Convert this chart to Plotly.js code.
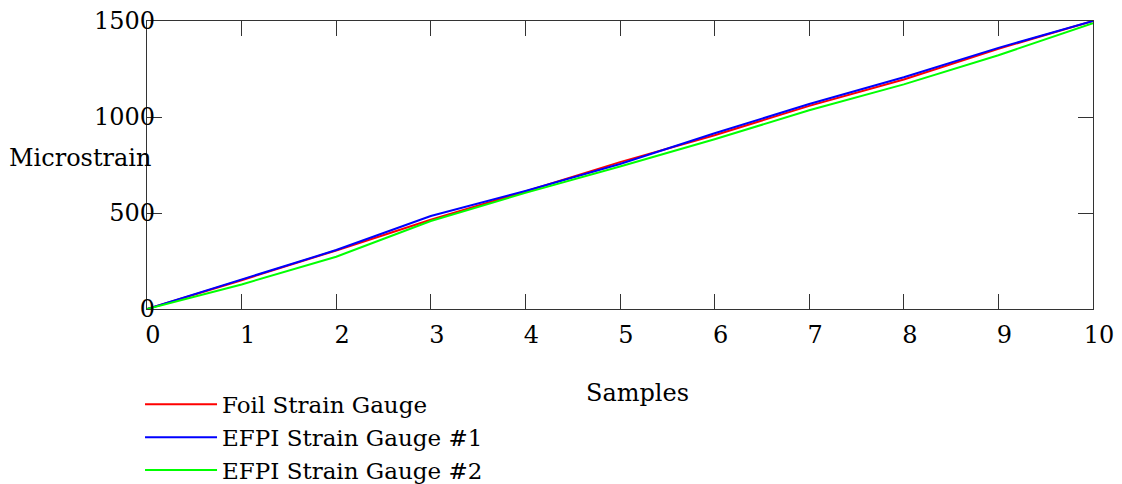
<!DOCTYPE html>
<html>
<head>
<meta charset="utf-8">
<script src="https://cdn.plot.ly/plotly-3.0.1.min.js"></script>
<style>html,body{margin:0;padding:0;background:#fff;}#chart{width:1122px;height:484px;}</style>
</head>
<body>
<div id="chart"></div>
<script>
const samples = [0,1,2,3,4,5,6,7,8,9,10];
const foil  = [0,150,305,465,612,765,905,1058,1195,1355,1500];
const efpi1 = [0,155,307,484,615,755,915,1068,1207,1360,1500];
const efpi2 = [0,128,272,458,605,742,884,1035,1170,1322,1488];
const seriesNames = ["Foil Strain Gauge","EFPI Strain Gauge #1","EFPI Strain Gauge #2"];
const xTitle = "Samples";
const yTitle = "Microstrain";
const yTickVals = [0,500,1000,1500];

const font = {family: "DejaVu Serif, serif", size: 24, color: "#000"};
const legFont = {family: "DejaVu Serif, serif", size: 23, color: "#000"};

const traces = [
  {x: samples, y: foil,  name: seriesNames[0], mode: "lines", line: {color: "#ff0000", width: 2}},
  {x: samples, y: efpi1, name: seriesNames[1], mode: "lines", line: {color: "#0000ff", width: 2}},
  {x: samples, y: efpi2, name: seriesNames[2], mode: "lines", line: {color: "#00ff00", width: 2}, yaxis: "y2"}
];

const layout = {
  width: 1122, height: 484,
  margin: {l: 147, r: 29, t: 21, b: 175, autoexpand: false},
  paper_bgcolor: "#fff", plot_bgcolor: "#fff",
  font: font,
  showlegend: true,
  legend: {xref: "container", yref: "container", x: 0.1248, xanchor: "left", y: 0.209, yanchor: "top",
           font: legFont, tracegroupgap: 0, itemwidth: 72, bgcolor: "rgba(0,0,0,0)"},
  xaxis: {
    range: [0, 10], dtick: 1, tick0: 0,
    showgrid: false, zeroline: false,
    showline: true, linecolor: "#333", linewidth: 1, mirror: "ticks",
    ticks: "inside", ticklen: 15, tickcolor: "#333", tickwidth: 1,
    ticklabelstandoff: 4, ticklabelshift: 6,
    tickfont: font
  },
  yaxis: {
    range: [0, 1500], tickvals: yTickVals,
    showgrid: false, zeroline: false,
    showline: true, linecolor: "#333", linewidth: 1, mirror: "ticks",
    ticks: "inside", ticklen: 15, tickcolor: "#333", tickwidth: 1,
    showticklabels: false
  },
  yaxis2: {
    range: [0, 1500], tickvals: yTickVals,
    overlaying: "y", anchor: "free", side: "left", position: 0.0085,
    showgrid: false, zeroline: false, showline: false, ticks: "",
    tickfont: font
  },
  annotations: [
    {text: yTitle, xref: "paper", yref: "paper", x: -0.148, y: 0.524, xanchor: "left", yanchor: "middle", showarrow: false, font: font},
    {text: xTitle, xref: "paper", yref: "paper", x: 0.462, y: -0.292, xanchor: "left", yanchor: "middle", showarrow: false, font: font}
  ]
};

Plotly.newPlot("chart", traces, layout, {displayModeBar: false, staticPlot: true});
</script>
</body>
</html>
